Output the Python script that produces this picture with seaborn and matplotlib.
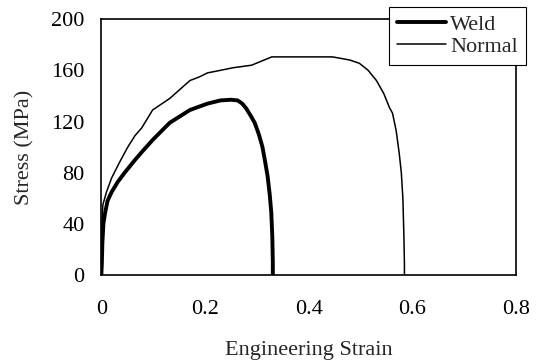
import matplotlib
matplotlib.use("Agg")
import matplotlib.pyplot as plt
import seaborn as sns
import pandas as pd

weld_strain = [0, 0.001, 0.002, 0.004, 0.007, 0.012, 0.02, 0.032, 0.045, 0.065, 0.08, 0.1,
               0.132, 0.171, 0.205, 0.23, 0.25, 0.263, 0.272, 0.28, 0.289, 0.296, 0.304,
               0.311, 0.316, 0.321, 0.325, 0.328, 0.33, 0.331, 0.331]
weld_stress = [0, 9, 25, 40, 48, 58, 65, 73, 80, 90, 97, 106,
               119, 129, 134, 136.5, 137, 136.5, 134, 130, 124, 119, 110,
               100, 89, 77, 63, 49, 30, 10, 0]

normal_strain = [0, 0.001, 0.003, 0.01, 0.02, 0.035, 0.051, 0.065, 0.078, 0.099, 0.132,
                 0.171, 0.19, 0.205, 0.23, 0.254, 0.29, 0.329, 0.38, 0.446, 0.46, 0.48,
                 0.498, 0.515, 0.531, 0.545, 0.556, 0.562, 0.569, 0.575, 0.579, 0.582,
                 0.584, 0.585, 0.585]
normal_stress = [0, 40, 55, 65, 76, 88, 100, 109, 115, 129, 138,
                 152, 155, 158, 160, 162, 164, 170.5, 170.5, 170.5, 169.5, 168,
                 165.5, 160, 152, 142, 131, 126.5, 113, 95, 80, 60,
                 30, 9, 0]

x_ticks = [0, 0.2, 0.4, 0.6, 0.8]
x_labels = ["0", "0.2", "0.4", "0.6", "0.8"]
y_ticks = [0, 40, 80, 120, 160, 200]

sns.set_style("white")
plt.rcParams['font.family'] = ['Liberation Serif', 'DejaVu Serif']
plt.rcParams['font.size'] = 16

fig = plt.figure(figsize=(5.39, 3.61), dpi=100)
ax = fig.add_axes([0.188, 0.238, 0.769, 0.709])

weld_df = pd.DataFrame({"strain": weld_strain, "stress": weld_stress})
normal_df = pd.DataFrame({"strain": normal_strain, "stress": normal_stress})

sns.lineplot(data=weld_df, x="strain", y="stress", sort=False, estimator=None,
             color="black", linewidth=2.8, ax=ax, label="Weld")
sns.lineplot(data=normal_df, x="strain", y="stress", sort=False, estimator=None,
             color="black", linewidth=1.1, ax=ax, label="Normal")

ax.set_xlim(0, 0.8)
ax.set_ylim(0, 200)
ax.set_xticks(x_ticks)
ax.set_xticklabels(x_labels)
ax.set_yticks(y_ticks)
ax.tick_params(direction="in", length=4, width=0.8, colors="black", labelsize=16)
ax.tick_params(axis="x", pad=18)
ax.tick_params(axis="y", pad=12)
for s in ax.spines.values():
    s.set_color("black")
    s.set_linewidth(1.2)
ax.set_xlabel("Engineering Strain", fontsize=16, labelpad=16)
ax.set_ylabel("Stress (MPa)", fontsize=16, labelpad=12)

ax.get_legend().remove()
leg = ax.legend(loc="upper right", bbox_to_anchor=(0.975, 0.981),
                bbox_transform=fig.transFigure, frameon=True, fancybox=False,
                edgecolor="black", framealpha=1, handlelength=2.2, handletextpad=0.2,
                borderpad=0.35, labelspacing=0.05, borderaxespad=0, fontsize=16)
leg.get_frame().set_linewidth(0.8)

fig.savefig("out.png", dpi=100)
